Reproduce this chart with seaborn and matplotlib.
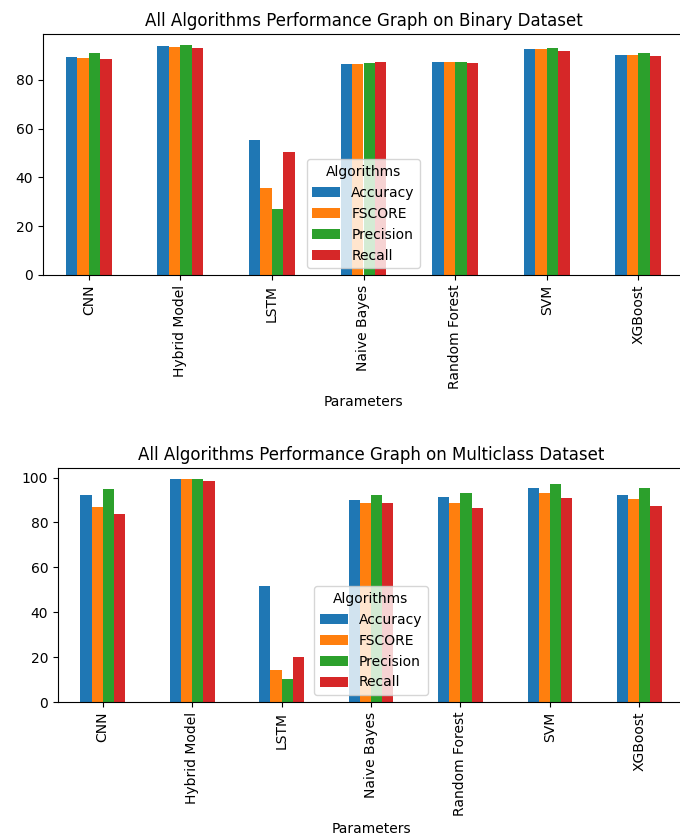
import matplotlib
matplotlib.use("Agg")
import matplotlib.pyplot as plt
import seaborn as sns
import pandas as pd

models = ["CNN", "Hybrid Model", "LSTM", "Naive Bayes", "Random Forest", "SVM", "XGBoost"]
metrics = ["Accuracy", "FSCORE", "Precision", "Recall"]

# Binary dataset
bin_accuracy = [89.4, 93.7, 55.3, 86.4, 87.5, 92.5, 90.3]
bin_fscore = [88.9, 93.3, 35.7, 86.5, 87.5, 92.5, 90.0]
bin_precision = [91.0, 94.1, 27.2, 87.0, 87.5, 93.2, 91.1]
bin_recall = [88.5, 92.9, 50.3, 87.4, 86.9, 92.0, 89.9]

# Multiclass dataset
mul_accuracy = [92.1, 99.3, 51.6, 90.0, 91.2, 95.5, 92.1]
mul_fscore = [86.8, 99.3, 14.1, 88.8, 88.8, 93.0, 90.4]
mul_precision = [94.8, 99.3, 10.4, 92.3, 93.3, 97.0, 95.5]
mul_recall = [83.8, 98.5, 20.1, 88.6, 86.6, 91.1, 87.5]

titles = ["All Algorithms Performance Graph on Binary Dataset",
          "All Algorithms Performance Graph on Multiclass Dataset"]


def make_df(acc, fs, pr, rc):
    rows = []
    for vals, m in zip([acc, fs, pr, rc], metrics):
        for mod, v in zip(models, vals):
            rows.append({"Parameters": mod, "Algorithms": m, "Value": v})
    return pd.DataFrame(rows)


dfs = [make_df(bin_accuracy, bin_fscore, bin_precision, bin_recall),
       make_df(mul_accuracy, mul_fscore, mul_precision, mul_recall)]

W, H = 680, 836
fig = plt.figure(figsize=(W / 100, H / 100), dpi=100)
# axes positions in pixels: left, top, right, bottom
boxes = [(43, 34, 684, 275), (58, 468, 684, 702)]
palette = ["#1f77b4", "#ff7f0e", "#2ca02c", "#d62728"]

for df, title, (l, t, r, b) in zip(dfs, titles, boxes):
    ax = fig.add_axes([l / W, 1 - b / H, (r - l) / W, (b - t) / H])
    sns.barplot(data=df, x="Parameters", y="Value", hue="Algorithms",
                order=models, hue_order=metrics, palette=palette,
                saturation=1, width=0.5, errorbar=None, linewidth=0, ax=ax)
    ax.set_title(title, fontsize=12)
    ax.set_ylabel("")
    ax.set_xlabel("Parameters", fontsize=10)
    ax.tick_params(axis="x", labelrotation=90)
    ax.set_xlim(-0.5, len(models) - 0.5)
    ax.margins(y=0.05)
    ax.legend(title="Algorithms", loc="lower center")

fig.savefig("out.png", dpi=100)
